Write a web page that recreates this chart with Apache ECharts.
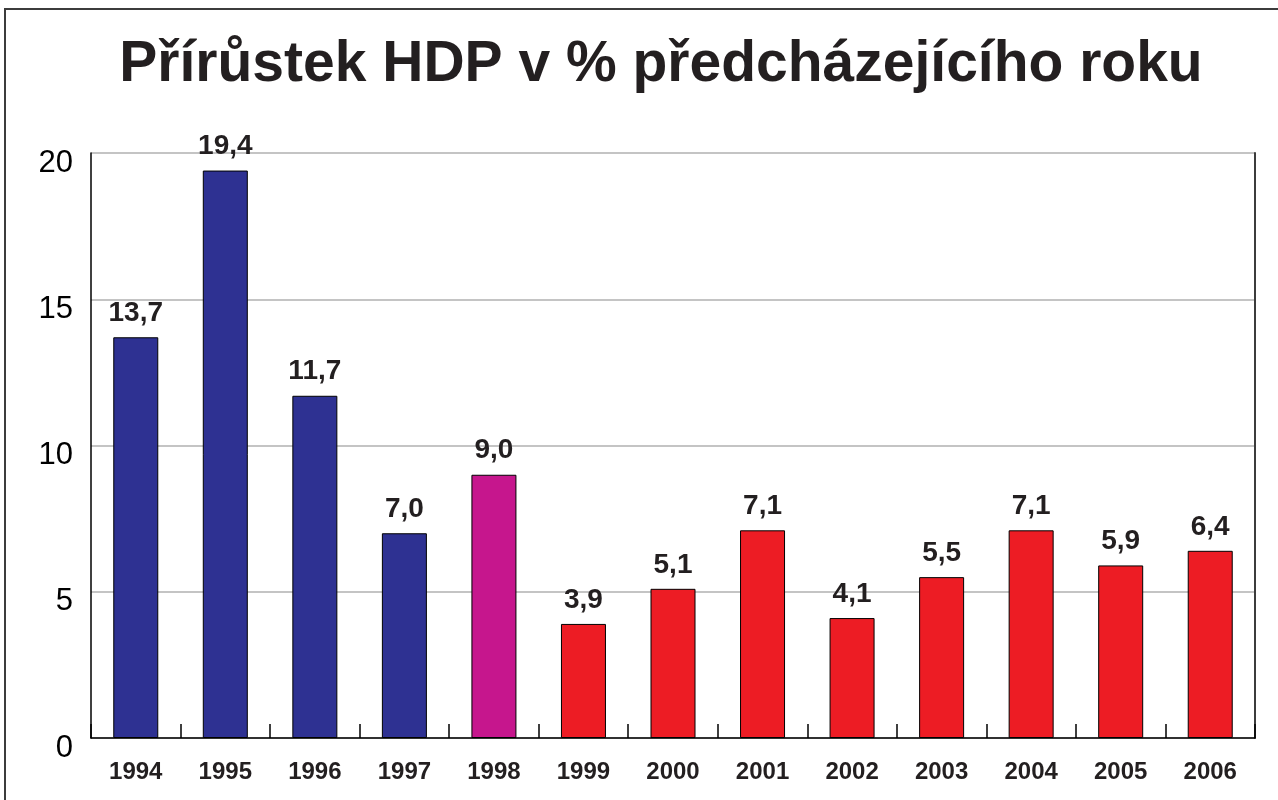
<!DOCTYPE html>
<html>
<head>
<meta charset="utf-8">
<script src="https://cdn.jsdelivr.net/npm/echarts@6/dist/echarts.min.js"></script>
<style>
  html, body { margin: 0; padding: 0; background: #fff; }
  #chart { width: 1278px; height: 800px; }
</style>
</head>
<body>
<div id="chart"></div>
<script>
var years = ['1994', '1995', '1996', '1997', '1998', '1999', '2000', '2001', '2002', '2003', '2004', '2005', '2006'];
var growth = [13.7, 19.4, 11.7, 7.0, 9.0, 3.9, 5.1, 7.1, 4.1, 5.5, 7.1, 5.9, 6.4];
var barColors = ['#2e3192', '#2e3192', '#2e3192', '#2e3192', '#c6168d',
    '#ed1c24', '#ed1c24', '#ed1c24', '#ed1c24', '#ed1c24', '#ed1c24', '#ed1c24', '#ed1c24'];

var textColor = '#231f20';

var chart = echarts.init(document.getElementById('chart'));

chart.setOption({
    backgroundColor: '#fff',
    animation: false,
    title: {
        text: 'Přírůstek HDP v % předcházejícího roku',
        left: 656,
        textAlign: 'center',
        top: 32,
        textStyle: {
            fontFamily: 'Liberation Sans, Arial, sans-serif',
            fontWeight: 'bold',
            fontSize: 57,
            color: textColor
        }
    },
    graphic: [{
        type: 'rect',
        shape: {x: 5, y: 9, width: 1300, height: 900},
        style: {fill: 'none', stroke: '#3c3c3c', lineWidth: 2}
    }],
    grid: {left: 91, right: 23, top: 153, bottom: 62},
    xAxis: {
        type: 'category',
        data: years,
        axisLine: {lineStyle: {color: '#000', width: 1.5}},
        axisTick: {show: true, inside: true, length: 14, lineStyle: {color: '#000', width: 1.5}},
        axisLabel: {
            margin: 22,
            fontFamily: 'Liberation Sans, Arial, sans-serif',
            fontWeight: 'bold',
            fontSize: 24,
            color: textColor
        }
    },
    yAxis: [{
        type: 'value',
        min: 0,
        max: 20,
        interval: 5,
        axisLine: {show: true, lineStyle: {color: '#000', width: 1.5}},
        axisTick: {show: false},
        splitLine: {lineStyle: {color: '#c4c4c4', width: 2}},
        axisLabel: {
            margin: 18,
            verticalAlign: 'top',
            lineHeight: 20,
            fontFamily: 'Liberation Sans, Arial, sans-serif',
            fontSize: 31,
            color: '#000'
        }
    }, {
        type: 'value',
        position: 'right',
        min: 0,
        max: 20,
        interval: 5,
        axisLine: {show: true, lineStyle: {color: '#3c3c3c', width: 2}},
        axisTick: {show: false},
        axisLabel: {show: false},
        splitLine: {show: false}
    }],
    series: [{
        type: 'bar',
        barWidth: 45,
        data: growth.map(function (v, i) {
            return {value: v, itemStyle: {color: barColors[i]}};
        }),
        itemStyle: {borderColor: '#000', borderWidth: 1},
        label: {
            show: true,
            position: 'top',
            distance: 10,
            formatter: function (p) {
                return p.value.toFixed(1).replace('.', ',');
            },
            fontFamily: 'Liberation Sans, Arial, sans-serif',
            fontWeight: 'bold',
            fontSize: 28,
            color: textColor
        }
    }]
});
</script>
</body>
</html>
